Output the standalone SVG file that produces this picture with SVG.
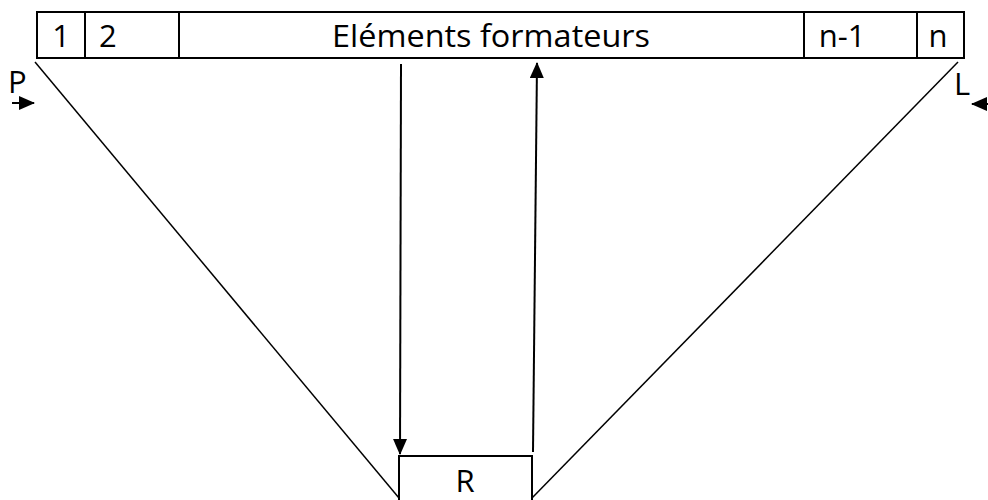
<svg xmlns="http://www.w3.org/2000/svg" width="988" height="500" viewBox="0 0 988 500">
<defs>
<style>
.box{fill:#fff;stroke:#000;stroke-width:2}
.ln{stroke:#000;stroke-width:1.5;fill:none}
.ar{stroke:#000;stroke-width:2;fill:none}
.t{font-family:"Open Sans","Liberation Sans",sans-serif;font-size:31px;fill:#000}
</style>
<marker id="ah" viewBox="0 0 16 14" refX="15" refY="7" markerWidth="16" markerHeight="14" orient="auto" markerUnits="userSpaceOnUse">
<path d="M0,0 L16,7 L0,14 z" fill="#000"/>
</marker>
</defs>
<g id="top">
<rect class="box" x="37" y="12" width="927" height="46"/>
<line class="box" x1="85" y1="12" x2="85" y2="58"/>
<line class="box" x1="179" y1="12" x2="179" y2="58"/>
<line class="box" x1="804" y1="12" x2="804" y2="58"/>
<line class="box" x1="917" y1="12" x2="917" y2="58"/>
<text class="t" x="61" y="47" text-anchor="middle">1</text>
<text class="t" x="99" y="47">2</text>
<text class="t" x="332" y="47" textLength="318" lengthAdjust="spacingAndGlyphs">Eléments formateurs</text>
<text class="t" x="842" y="47" text-anchor="middle">n-1</text>
<text class="t" x="938" y="47" text-anchor="middle">n</text>
</g>
<g id="R">
<path class="box" d="M399,500 V456 H532 V500"/>
<text class="t" x="465" y="492" text-anchor="middle">R</text>
</g>
<g id="P">
<text class="t" x="8" y="93">P</text>
</g>
<g id="L">
<text class="t" x="954" y="95">L</text>
</g>
<g id="connectors">
<line class="ln" x1="35" y1="62" x2="399" y2="498"/>
<line class="ln" x1="958" y1="62" x2="532" y2="498"/>
<line class="ar" x1="401" y1="64" x2="400" y2="454" marker-end="url(#ah)"/>
<line class="ar" x1="533" y1="452" x2="537" y2="63" marker-end="url(#ah)"/>
<line class="ar" x1="12" y1="103" x2="34" y2="103" marker-end="url(#ah)"/>
<line class="ar" x1="992" y1="104" x2="972" y2="104" marker-end="url(#ah)"/>
</g>
</svg>
